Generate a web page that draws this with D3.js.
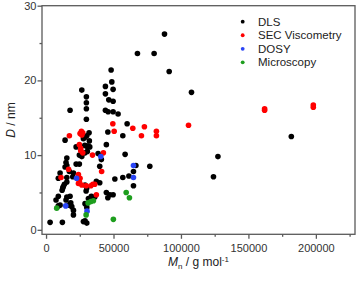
<!DOCTYPE html>
<html>
<head>
<meta charset="utf-8">
<script src="https://cdn.jsdelivr.net/npm/d3@7"></script>
<style>
  body { margin: 0; background: #fff; }
  svg { display: block; font-family: Arial, "Liberation Sans", sans-serif; }
</style>
</head>
<body>
<div id="chart"></div>
<script>
// values: [Mn (g/mol), D (nm)]
var dls = [
  [87800, 26.2], [67750, 23.6], [80100, 23.6], [91270, 21.2], [107800, 18.4],
  [48230, 21.4], [48750, 19.8], [44000, 19.2], [49700, 18.8], [44000, 18.2],
  [46500, 17.4], [49700, 17.2], [44000, 16.0], [46000, 15.8], [49700, 15.8],
  [53400, 15.5], [26500, 18.7], [29900, 17.8], [29900, 17.0], [29900, 16.2],
  [29900, 14.8], [17800, 16.0], [60100, 14.2], [56900, 12.6], [45800, 13.1],
  [31900, 13.0], [28900, 12.4], [14100, 12.0], [181800, 12.5], [127400, 9.8],
  [124100, 7.1], [76900, 8.5], [66600, 8.6], [64800, 7.8], [64800, 5.9],
  [58600, 10.1], [61400, 7.2], [56900, 7.0], [51000, 6.8], [44700, 11.4],
  [31200, 11.2], [32400, 11.1], [30200, 11.2], [28700, 11.3], [27700, 12.2],
  [32100, 11.9], [22300, 11.1], [28900, 10.3], [30600, 10.5], [24700, 10.0],
  [26500, 9.8], [38600, 10.2], [41000, 9.4], [39800, 8.5], [15400, 9.6],
  [14800, 9.0], [15400, 8.6], [14100, 8.4], [22300, 8.8], [24700, 8.8],
  [17300, 7.8], [20300, 7.6], [10400, 7.6], [9100, 6.9], [19800, 7.1],
  [15400, 7.0], [15400, 6.4], [13600, 6.1], [12400, 5.6], [11900, 5.3],
  [28900, 6.0], [30200, 5.6], [29700, 5.2], [37300, 6.5], [39800, 6.3],
  [44700, 5.0], [47300, 4.7], [49700, 4.7], [45800, 4.3], [33600, 4.5],
  [36100, 4.4], [31400, 4.2], [28900, 3.5], [30200, 3.0], [9100, 4.5],
  [7400, 4.0], [17800, 4.5], [18300, 3.6], [19100, 3.1], [20300, 2.6],
  [20300, 2.0], [10400, 3.3], [3000, 1.0], [12100, 1.0], [27700, 1.1],
  [30200, 0.9], [28900, 1.2], [15400, 4.4], [14800, 4.0], [16800, 3.3],
  [9100, 3.2], [30200, 12.6], [12800, 5.8]
];
var sec = [
  [49500, 14.2], [50500, 13.2], [64300, 13.6], [72900, 13.8], [70700, 12.6],
  [81800, 13.2], [81800, 12.6], [17300, 12.6], [25200, 12.9], [27200, 13.0],
  [26500, 12.7], [26200, 13.2], [162000, 16.2], [162000, 16.0], [198100, 16.7],
  [198100, 16.4], [105600, 14.0], [24700, 11.4], [25700, 10.9], [25700, 10.6],
  [27200, 10.3], [34400, 10.0], [42500, 10.3], [41200, 7.8], [11100, 7.0],
  [24000, 7.4], [25200, 6.9], [24700, 6.5], [24000, 6.2], [26500, 6.0],
  [29700, 5.9], [33200, 5.9], [34700, 6.1], [36100, 6.1], [37300, 4.7],
  [16700, 8.1]
];
var dosy = [
  [40600, 9.8], [64800, 8.6], [64800, 7.0], [22600, 6.9], [14600, 3.2], [30400, 2.5]
];
var microscopy = [
  [7900, 2.9], [31200, 3.6], [33200, 3.8], [35100, 3.9], [29700, 2.0],
  [59400, 5.0], [61800, 4.3], [49900, 1.4]
];
var seriesNames = ['DLS', 'SEC Viscometry', 'DOSY', 'Microscopy'];
var seriesColors = ['#000000', '#ff0000', '#2a45f5', '#1e9e1e'];
var xTicks = [0, 50000, 100000, 150000, 200000];
var yTicks = [0, 10, 20, 30];

var allSeries = [dls, sec, dosy, microscopy];

var width = 358, height = 281;
var plotLeft = 42, plotRight = 355, plotTop = 5.7, plotBottom = 234.3;
var axisColor = '#5a5a5a';

var svg = d3.select('#chart')
    .append('svg')
    .attr('width', width)
    .attr('height', height);

var x = d3.scaleLinear().domain([-3000, 229000]).range([plotLeft, plotRight]);
var y = d3.scaleLinear().domain([-0.6, 30]).range([plotBottom, plotTop]);

// frame
svg.append('rect')
    .attr('x', plotLeft)
    .attr('y', plotTop)
    .attr('width', plotRight - plotLeft)
    .attr('height', plotBottom - plotTop)
    .attr('fill', 'none')
    .attr('stroke', axisColor)
    .attr('stroke-width', 1.3);

// bottom axis
var xAxis = svg.append('g')
    .attr('transform', `translate(0,${plotBottom})`)
    .call(d3.axisBottom(x).tickValues(xTicks).tickFormat(d3.format('d')).tickSize(4.5).tickSizeOuter(0));
svg.append('g')
    .attr('transform', `translate(0,${plotBottom})`)
    .call(d3.axisBottom(x).tickValues([25000, 75000, 125000, 175000, 225000]).tickFormat('').tickSize(2.5).tickSizeOuter(0));

// left axis
var yAxis = svg.append('g')
    .attr('transform', `translate(${plotLeft},0)`)
    .call(d3.axisLeft(y).tickValues(yTicks).tickSize(4.5).tickSizeOuter(0));
svg.append('g')
    .attr('transform', `translate(${plotLeft},0)`)
    .call(d3.axisLeft(y).tickValues([5, 15, 25]).tickFormat('').tickSize(2.5).tickSizeOuter(0));

svg.selectAll('.domain').remove();
svg.selectAll('.tick line').attr('stroke', axisColor).attr('stroke-width', 1.3);
svg.selectAll('.tick text')
    .attr('fill', '#333')
    .style('font-size', '11px')
    .style('font-family', 'Arial, "Liberation Sans", sans-serif');
xAxis.selectAll('.tick text').attr('dy', '0.9em');
yAxis.selectAll('.tick text').attr('x', -5.5);

// points, drawn series by series
allSeries.forEach(function(data, i) {
    svg.append('g')
        .selectAll('circle')
        .data(data)
        .enter()
        .append('circle')
        .attr('cx', d => x(d[0]))
        .attr('cy', d => y(d[1]))
        .attr('r', 2.8)
        .attr('fill', seriesColors[i]);
});

// legend
var legend = svg.append('g').attr('transform', 'translate(242.7,21.7)');
seriesNames.forEach(function(name, i) {
    var row = legend.append('g').attr('transform', `translate(0,${i * 13.55})`);
    row.append('circle')
        .attr('r', 1.9)
        .attr('fill', seriesColors[i]);
    row.append('text')
        .attr('x', 15.3)
        .attr('dy', '0.35em')
        .attr('fill', '#222')
        .style('font-size', '11.5px')
        .text(name);
});

// axis titles
var xTitle = svg.append('text')
    .attr('x', (plotLeft + plotRight) / 2)
    .attr('y', 266)
    .attr('text-anchor', 'middle')
    .attr('fill', '#222')
    .style('font-size', '12px');
xTitle.append('tspan').style('font-style', 'italic').text('M');
xTitle.append('tspan').attr('dy', 3).style('font-size', '8px').text('n');
xTitle.append('tspan').attr('dy', -3).text(' / g mol');
xTitle.append('tspan').attr('dy', -4.5).style('font-size', '8px').text('-1');

var yTitle = svg.append('text')
    .attr('transform', `translate(14.5,${(plotTop + plotBottom) / 2}) rotate(-90)`)
    .attr('text-anchor', 'middle')
    .attr('fill', '#222')
    .style('font-size', '12px');
yTitle.append('tspan').style('font-style', 'italic').text('D');
yTitle.append('tspan').text(' / nm');
</script>
</body>
</html>
